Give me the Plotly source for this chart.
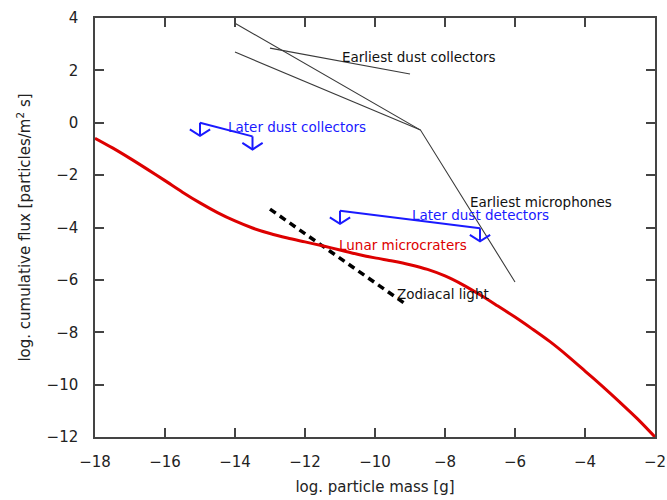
import plotly.graph_objects as go

# ---------------- data ----------------
lunar_x = [-18, -17.5, -17, -16.5, -16, -15.5, -15, -14.5, -14, -13.5, -13, -12.5, -12,
           -11.5, -11, -10.5, -10, -9.5, -9, -8.5, -8, -7.5, -7, -6.5, -6, -5.5, -5,
           -4.5, -4, -3.5, -3, -2.5, -2]
lunar_y = [-0.59, -0.96, -1.36, -1.78, -2.21, -2.65, -3.06, -3.43, -3.75, -4.02, -4.23,
           -4.40, -4.55, -4.70, -4.86, -5.02, -5.16, -5.28, -5.42, -5.60, -5.85, -6.18,
           -6.57, -6.99, -7.42, -7.88, -8.36, -8.90, -9.48, -10.07, -10.68, -11.31, -12.0]

early_coll_a_x = [-14.0, -8.7, -6.0]      # upper collector line + microphones
early_coll_a_y = [3.8, -0.28, -6.08]
early_coll_b_x = [-14.0, -8.7]
early_coll_b_y = [2.70, -0.28]
early_coll_c_x = [-13.0, -9.0]
early_coll_c_y = [2.85, 1.86]

later_coll_x = [-15.0, -13.5]
later_coll_y = [0.0, -0.52]
later_det_x = [-11.0, -7.0]
later_det_y = [-3.36, -4.03]

zodi_x = [-13.0, -9.1]
zodi_y = [-3.3, -6.95]

labels = ["Earliest dust collectors", "Later dust collectors", "Earliest microphones",
          "Later dust detectors", "Lunar microcraters", "Zodiacal light"]
label_x = [-11.0, -14.26, -7.34, -9.0, -11.09, -9.43]
label_y = [2.51, -0.16, -3.03, -3.52, -4.67, -6.54]
label_colors = ["#111111", "#1a1aff", "#111111", "#1a1aff", "#dd0000", "#111111"]

x_ticks = list(range(-18, -1, 2))
y_ticks = list(range(-12, 5, 2))

BLUE = "#1a1aff"
RED = "#dd0000"
GREY = "#3a3a3a"
FONT = "DejaVu Sans"


def upper_limits(xs, ys, drop=0.5, hw=0.29, hh=0.25):
    """Connect points and hang a downward arrow (upper limit) from each."""
    px, py = list(xs), list(ys)
    for x, y in zip(xs, ys):
        px += [None, x, x, None, x - hw, x, x + hw]
        py += [None, y, y - drop, None, y - drop + hh, y - drop, y - drop + hh]
    return px, py


fig = go.Figure()

for xs, ys in [(early_coll_a_x, early_coll_a_y), (early_coll_b_x, early_coll_b_y),
               (early_coll_c_x, early_coll_c_y)]:
    fig.add_trace(go.Scatter(x=xs, y=ys, mode="lines",
                             line=dict(color=GREY, width=1.1), showlegend=False,
                             hoverinfo="skip"))

for xs, ys in [(later_coll_x, later_coll_y), (later_det_x, later_det_y)]:
    ax, ay = upper_limits(xs, ys)
    fig.add_trace(go.Scatter(x=ax, y=ay, mode="lines",
                             line=dict(color=BLUE, width=2), showlegend=False,
                             hoverinfo="skip"))

fig.add_trace(go.Scatter(x=zodi_x, y=zodi_y, mode="lines",
                         line=dict(color="black", width=3.5, dash="7px,5px"),
                         showlegend=False, hoverinfo="skip"))

fig.add_trace(go.Scatter(x=lunar_x, y=lunar_y, mode="lines",
                         line=dict(color=RED, width=3, shape="spline", smoothing=0.8),
                         showlegend=False, hoverinfo="skip"))

for t, x, y, c in zip(labels, label_x, label_y, label_colors):
    fig.add_annotation(x=x, y=y, text=t, showarrow=False, xanchor="left",
                       yanchor="middle", font=dict(color=c, size=13.5, family=FONT))

axis_common = dict(showgrid=False, zeroline=False, showline=True, linecolor="#444444",
                   linewidth=1.5, mirror="ticks", ticks="inside", ticklen=9,
                   tickwidth=1.5, tickcolor="#444444", automargin=False,
                   tickfont=dict(size=15, color="#222222", family=FONT))

fig.update_xaxes(range=[-18, -2], tickvals=x_ticks, ticklabelstandoff=10,
                 title=dict(text="log. particle mass [g]", standoff=12,
                            font=dict(size=15, color="#222222", family=FONT)),
                 **axis_common)
fig.update_yaxes(range=[-12, 4], tickvals=y_ticks, ticklabelstandoff=12,
                 title=dict(text="log. cumulative flux [particles/m<sup>2</sup> s]",
                            standoff=12,
                            font=dict(size=15, color="#222222", family=FONT)),
                 **axis_common)

fig.update_layout(width=667, height=500, margin=dict(l=95, r=12, t=18, b=63),
                  plot_bgcolor="white", paper_bgcolor="white")

fig.write_html("out.html")
